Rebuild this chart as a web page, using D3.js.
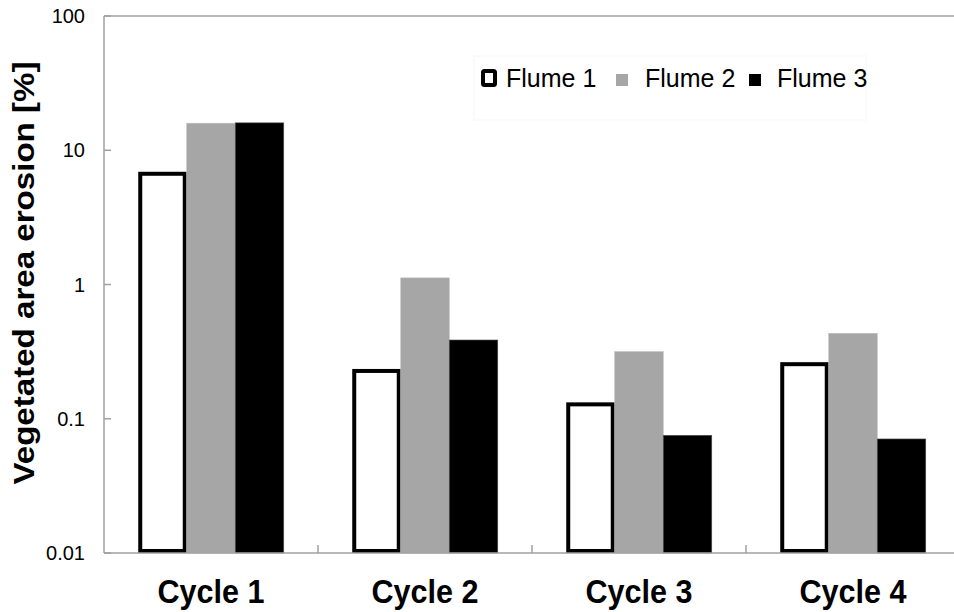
<!DOCTYPE html>
<html><head><meta charset="utf-8">
<script src="https://cdn.jsdelivr.net/npm/d3@7/dist/d3.min.js"></script>
<style>body{margin:0;background:#fff}svg{display:block;font-family:"Liberation Sans",Arial,sans-serif}</style>
</head><body><svg id="c" width="954" height="612"></svg>
<script>
const categories = ["Cycle 1","Cycle 2","Cycle 3","Cycle 4"];
const series = ["Flume 1","Flume 2","Flume 3"];
const flume1 = [6.68, 0.227, 0.128, 0.255];
const flume2 = [15.9, 1.12, 0.316, 0.433];
const flume3 = [16.0, 0.386, 0.0753, 0.0707];
const yTicks = [0.01, 0.1, 1, 10, 100];
const yTickLabels = ["0.01","0.1","1","10","100"];
const yTitle = "Vegetated area erosion [%]";

const values = [flume1, flume2, flume3];
const fills = ["#ffffff", "#a6a6a6", "#000000"];
const svg = d3.select("#c");
const L = 104, T = 16, B = 553, R = 954;

const y = d3.scaleLog().domain([0.01, 100]).range([B, T]);
const x0 = d3.scaleBand().domain(categories).range([L, 960]).paddingInner(0.32).paddingOuter(0.16);
const x1 = d3.scaleBand().domain(series).range([0, x0.bandwidth()]);

// legend background (faint)
svg.append("rect").attr("x", 474).attr("y", 56).attr("width", 392).attr("height", 64).attr("fill", "#fff").attr("stroke", "#f6f6f6").attr("stroke-width", 1);

// bars
const g = svg.append("g");
categories.forEach((c, ci) => {
  series.forEach((s, si) => {
    const v = values[si][ci];
    const bx = x0(c) + x1(s), bw = x1.bandwidth();
    if (si === 0) {
      g.append("rect").attr("x", bx + 2).attr("y", y(v)).attr("width", bw - 4).attr("height", B - y(v) - 2)
        .attr("fill", "#fff").attr("stroke", "#000").attr("stroke-width", 4);
    } else {
      g.append("rect").attr("x", bx).attr("y", y(v)).attr("width", bw).attr("height", B - y(v))
        .attr("fill", fills[si]).attr("stroke", si === 1 ? "#bdbdbd" : "#555").attr("stroke-width", 0.6);
    }
  });
});

// axes lines
const axisColor = "#a0a0a0";
svg.append("line").attr("x1", L).attr("x2", R).attr("y1", T).attr("y2", T).attr("stroke", axisColor).attr("stroke-width", 1.5);
svg.append("line").attr("x1", L).attr("x2", R).attr("y1", B).attr("y2", B).attr("stroke", axisColor).attr("stroke-width", 1.5);
svg.append("line").attr("x1", L).attr("x2", L).attr("y1", T).attr("y2", B).attr("stroke", axisColor).attr("stroke-width", 1.5);

// y ticks
yTicks.forEach((t, i) => {
  svg.append("line").attr("x1", L).attr("x2", L + 7).attr("y1", y(t)).attr("y2", y(t)).attr("stroke", axisColor).attr("stroke-width", 1.5);
  svg.append("text").attr("x", 85).attr("y", y(t)).attr("dy", "0.35em").attr("text-anchor", "end")
    .attr("font-size", 20).attr("fill", "#000").text(yTickLabels[i]);
});

// x ticks between categories
categories.slice(1).forEach(c => {
  const xx = x0(c) - x0.step() * x0.paddingInner() / 2;
  svg.append("line").attr("x1", xx).attr("x2", xx).attr("y1", B).attr("y2", B - 8).attr("stroke", axisColor).attr("stroke-width", 1.5);
});

// category labels
categories.forEach(c => {
  svg.append("text").attr("x", x0(c) + x0.bandwidth() / 2).attr("y", 603).attr("text-anchor", "middle")
    .attr("font-size", 33).attr("font-weight", "bold").attr("textLength", 107).attr("lengthAdjust", "spacingAndGlyphs").text(c);
});

// y title
svg.append("text").attr("transform", "translate(34,273) rotate(-90)").attr("text-anchor", "middle")
  .attr("font-size", 29).attr("font-weight", "bold").attr("textLength", 423).attr("lengthAdjust", "spacingAndGlyphs").text(yTitle);

// legend
const leg = [
  {mx: 481, mw: 16, mh: 18, my: 69, tx: 506},
  {mx: 616, mw: 12, mh: 12, my: 74, tx: 645},
  {mx: 749, mw: 12, mh: 12, my: 74, tx: 777}
];
series.forEach((s, i) => {
  const l = leg[i];
  if (i === 0) {
    svg.append("rect").attr("x", l.mx + 2).attr("y", l.my + 2).attr("width", l.mw - 4).attr("height", l.mh - 4)
      .attr("rx", 1.5).attr("fill", "#fff").attr("stroke", "#000").attr("stroke-width", 4);
  } else {
    svg.append("rect").attr("x", l.mx).attr("y", l.my).attr("width", l.mw).attr("height", l.mh).attr("fill", fills[i]);
  }
  svg.append("text").attr("x", l.tx).attr("y", 87).attr("font-size", 25).attr("fill", "#000").text(s);
});
</script></body></html>
